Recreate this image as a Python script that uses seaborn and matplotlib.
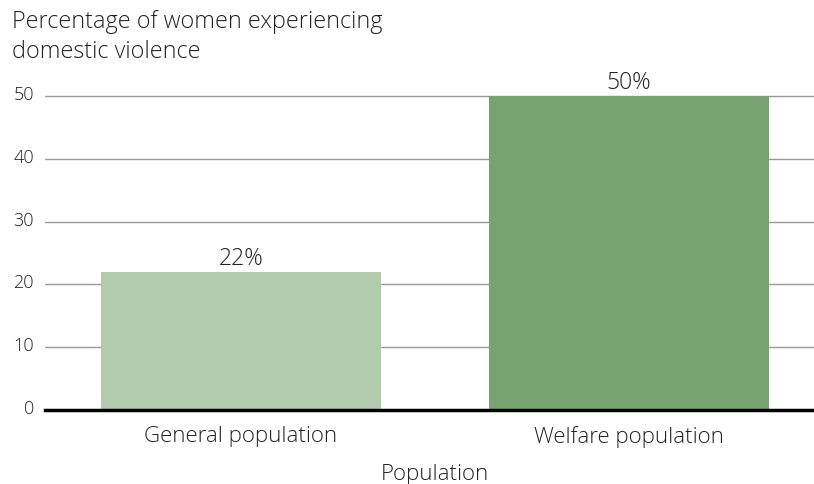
import matplotlib
matplotlib.use("Agg")
import matplotlib.pyplot as plt
import matplotlib.transforms as mtransforms
import seaborn as sns
import pandas as pd

categories = ["General population", "Welfare population"]
values = [22, 50]
value_labels = ["22%", "50%"]
yticks = [0, 10, 20, 30, 40, 50]
colors = ["#b2cbad", "#76a36f"]

sns.set_theme(style="white")
plt.rcParams['font.family'] = ['Open Sans', 'DejaVu Sans']

W, H = 814, 485
fig = plt.figure(figsize=(W/100, H/100), dpi=100)
ax_left, ax_right = 45, 814
y0, y50 = 411, 97
ymax = 52
px_per = (y0 - y50) / 50
ax_top = y0 - ymax * px_per
ax = fig.add_axes([ax_left/W, 1 - y0/H, (ax_right-ax_left)/W, (y0-ax_top)/H])

df = pd.DataFrame({"cat": categories, "val": values})
sns.barplot(data=df, x="cat", y="val", hue="cat", palette=colors, width=0.72,
            ax=ax, legend=False, zorder=3, saturation=1, linewidth=0)

c0, c1 = 241, 629
sp = c1 - c0
ax.set_xlim((ax_left - c0)/sp, (ax_right - c0)/sp)
ax.set_ylim(0, ymax)
ax.set_yticks(yticks)
ax.yaxis.grid(True, color="#9a9a9a", linewidth=1, zorder=0)
ax.set_axisbelow(True)
for s in ["top", "right", "left"]:
    ax.spines[s].set_visible(False)
ax.spines["bottom"].set_color("black")
ax.spines["bottom"].set_linewidth(2.5)
ax.spines["bottom"].set_zorder(5)
ax.tick_params(axis="y", length=0, pad=8, labelsize=13, labelcolor="#222222")
ax.tick_params(axis="x", length=0, pad=11, labelsize=16, labelcolor="#222222")
offset = mtransforms.ScaledTranslation(0, 2/100, fig.dpi_scale_trans)
for t in ax.get_yticklabels():
    t.set_verticalalignment("center")
    t.set_fontweight("light")
    t.set_transform(t.get_transform() + offset)
for t in ax.get_xticklabels():
    t.set_fontweight("light")

for i, (v, lab) in enumerate(zip(values, value_labels)):
    ax.text(i, v + 0.3, lab, ha="center", va="bottom", fontsize=16.5,
            color="#222222", fontweight="light")

ax.set_xlabel("")
ax.set_ylabel("")
fig.text(435/W, 1 - 475/H, "Population", ha="center", va="center",
         fontsize=16, color="#222222", fontweight="light")
fig.text(12/W, 1 - 10/H, "Percentage of women experiencing\ndomestic violence",
         ha="left", va="top", fontsize=16.8, color="#222222", linespacing=1.35,
         fontweight="light")

fig.savefig("out.png", dpi=100)
